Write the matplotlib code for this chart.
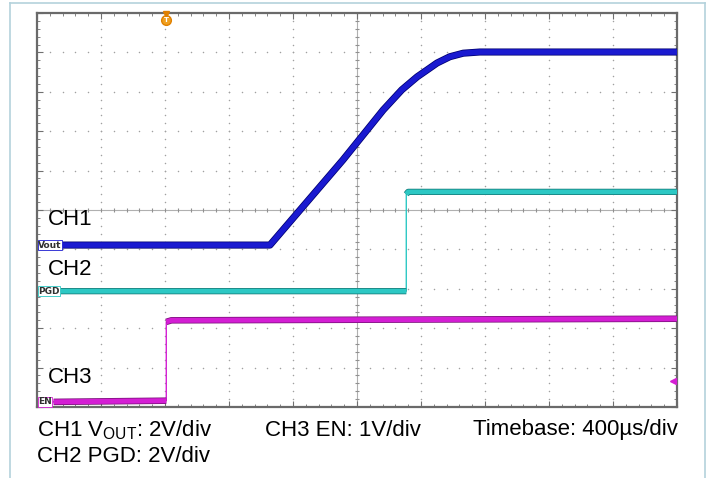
import matplotlib.pyplot as plt
import matplotlib.patheffects as pe
import numpy as np
from matplotlib.ticker import MultipleLocator
from matplotlib.lines import Line2D

# screen is 10 x 10 divisions
ch1_t = [0.40, 3.64, 4.78, 5.41, 5.70, 5.94, 6.10, 6.25, 6.45, 6.66, 6.92, 10.0]
ch1_v = [4.11, 4.11, 6.27, 7.54, 8.05, 8.38, 8.56, 8.73, 8.89, 8.98, 9.01, 9.01]

ch2_t = [0.37, 5.77, 5.77, 5.80, 10.0]
ch2_v = [2.94, 2.94, 5.40, 5.46, 5.46]

ch3_t = [0.26, 2.02, 2.02, 2.10, 10.0]
ch3_v = [0.13, 0.16, 2.16, 2.20, 2.24]

W, H = 709, 478
fig = plt.figure(figsize=(W / 100, H / 100), dpi=100)
ax = fig.add_axes([37 / W, (H - 407) / H, 640 / W, 394 / H])
ax.set_xlim(0, 10)
ax.set_ylim(0, 10)

# dotted graticule
gx, gy = np.meshgrid(np.arange(1, 10), np.arange(0, 10.01, 0.2))
ax.scatter(gx.ravel(), gy.ravel(), s=1.2, c="#a0a0a0", lw=0, zorder=1)
ax.scatter(gy.ravel(), gx.ravel(), s=1.2, c="#a0a0a0", lw=0, zorder=1)
ax.axhline(5, color="#b0b0b0", lw=0.8, zorder=1)
ax.axvline(5, color="#b0b0b0", lw=0.8, zorder=1)
tk = np.arange(0, 10.01, 0.2)
ax.scatter(tk, np.full_like(tk, 5), marker="|", s=12, c="#909090", lw=0.8, zorder=1)
ax.scatter(np.full_like(tk, 5), tk, marker="_", s=12, c="#909090", lw=0.8, zorder=1)

ax.xaxis.set_major_locator(MultipleLocator(1))
ax.yaxis.set_major_locator(MultipleLocator(1))
ax.xaxis.set_minor_locator(MultipleLocator(0.2))
ax.yaxis.set_minor_locator(MultipleLocator(0.2))
ax.tick_params(which="both", direction="in", top=True, right=True,
               labelbottom=False, labelleft=False, color="#707070")
ax.tick_params(which="major", length=4)
ax.tick_params(which="minor", length=2.5)
for s in ax.spines.values():
    s.set_color("#6a6a6a")
    s.set_linewidth(1.6)


def trace(t, v, col, edge, lw, z):
    # thin line everywhere, thick band except on vertical steps
    ax.plot(t, v, color=col, lw=1.0, zorder=z)
    tt, vv = [t[0]], [v[0]]
    for i in range(1, len(t)):
        if t[i] == t[i - 1]:
            tt.append(np.nan)
            vv.append(np.nan)
        tt.append(t[i])
        vv.append(v[i])
    ax.plot(tt, vv, color=col, lw=lw, solid_capstyle="butt", zorder=z,
            path_effects=[pe.Stroke(linewidth=lw + 1.1, foreground=edge), pe.Normal()])


trace(ch3_t, ch3_v, "#d41ed4", "#7a107a", 3.6, 3)
trace(ch2_t, ch2_v, "#2cc8c4", "#157a78", 3.4, 3)
trace(ch1_t, ch1_v, "#1a1ad0", "#000070", 4.0, 4)

# channel names
for name, y in [("CH1", 4.75), ("CH2", 3.49), ("CH3", 0.74)]:
    ax.text(0.17, y, name, fontsize=16, family="Liberation Sans", va="center", ha="left", zorder=5)
for name, y, ec in [("Vout", 4.11, "#1a1ad0"), ("PGD", 2.94, "#2cc8c4"), ("EN", 0.13, "#d41ed4")]:
    ax.text(0.02, y, name, fontsize=6.5, family="DejaVu Sans", color="#303030", weight="bold",
            va="center", ha="left", zorder=6,
            bbox=dict(boxstyle="square,pad=0.05", fc="white", ec=ec, lw=0.6))

# trigger markers
ax.plot([2.02], [9.82], marker="o", ms=7, color="#f0a020", mec="#e08000", clip_on=False, zorder=6)
ax.text(2.02, 9.82, "T", fontsize=5, color="white", ha="center", va="center", weight="bold", zorder=7)
ax.plot([2.02], [9.98], marker="v", ms=4, color="#e08000", clip_on=False, zorder=6)
ax.plot([9.93], [0.66], marker="<", ms=4, color="#d41ed4", zorder=6)

# caption
fs = 16
fig.text(37 / W, 1 - 430 / H, r"CH1 V$_{\mathregular{OUT}}$: 2V/div", fontsize=fs,
         family="Liberation Sans", va="center", ha="left")
fig.text(265 / W, 1 - 430 / H, "CH3 EN: 1V/div", fontsize=fs,
         family="Liberation Sans", va="center", ha="left")
fig.text(678 / W, 1 - 430 / H, "Timebase: 400µs/div", fontsize=fs,
         family="Liberation Sans", va="center", ha="right")
fig.text(37 / W, 1 - 457 / H, "CH2 PGD: 2V/div", fontsize=fs,
         family="Liberation Sans", va="center", ha="left")

# outer frame
bc = "#b4d2dc"
fig.add_artist(Line2D([10 / W, 10 / W], [0, 1 - 3 / H], color=bc, lw=1.2))
fig.add_artist(Line2D([10 / W, 705 / W], [1 - 3 / H, 1 - 3 / H], color=bc, lw=1.2))
fig.add_artist(Line2D([705 / W, 705 / W], [0, 1 - 3 / H], color=bc, lw=1.2))

fig.savefig("out.png", dpi=100)
